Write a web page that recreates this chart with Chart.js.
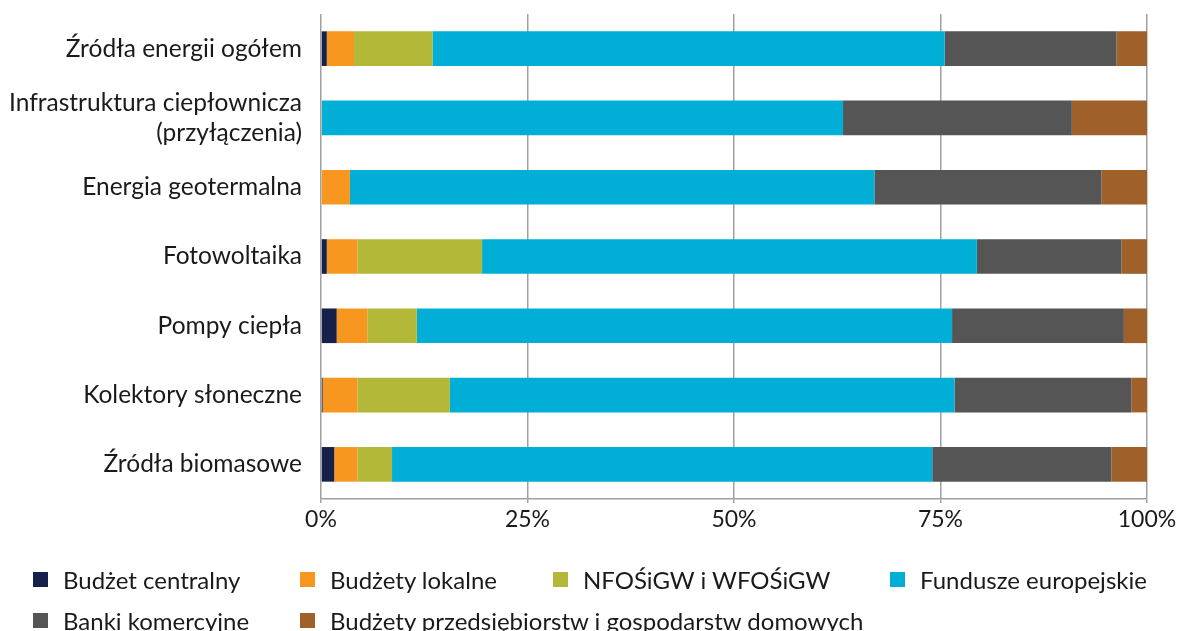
<!DOCTYPE html>
<html>
<head>
<meta charset="utf-8">
<script src="https://cdn.jsdelivr.net/npm/chart.js@4/dist/chart.umd.min.js"></script>
<style>
  html, body { margin: 0; padding: 0; background: #ffffff; }
  #wrap { position: relative; width: 1185px; height: 631px; overflow: hidden; }
  #c { position: absolute; left: 0; top: 0; }
  #legend {
    position: absolute; left: 33px; top: 559px;
    display: grid; grid-template-columns: 267px 253px 337px auto;
    grid-auto-rows: 41px;
    font-family: Lato, "Noto Sans", sans-serif; font-size: 24px; color: #1a1a1a;
  }
  .li { display: flex; align-items: center; white-space: nowrap; height: 41px; }
  .sw { width: 15px; height: 15px; margin-right: 15px; flex: none; }
</style>
</head>
<body>
<div id="wrap">
  <canvas id="c" width="1185" height="631"></canvas>
  <div id="legend"></div>
</div>
<script>
const categories = [
  'Źródła energii ogółem',
  ['Infrastruktura ciepłownicza', '(przyłączenia)'],
  'Energia geotermalna',
  'Fotowoltaika',
  'Pompy ciepła',
  'Kolektory słoneczne',
  'Źródła biomasowe'
];
const seriesNames = [
  'Budżet centralny',
  'Budżety lokalne',
  'NFOŚiGW i WFOŚiGW',
  'Fundusze europejskie',
  'Banki komercyjne',
  'Budżety przedsiębiorstw i gospodarstw domowych'
];
const budzetCentralny   = [0.7, 0.0, 0.0, 0.7, 1.9, 0.2, 1.6];
const budzetyLokalne    = [3.3, 0.0, 3.5, 3.7, 3.7, 4.2, 2.8];
const nfosWfos          = [9.5, 0.1, 0.0, 15.1, 6.0, 11.2, 4.2];
const funduszeEuropejskie = [62.0, 63.1, 63.5, 59.9, 64.8, 61.1, 65.4];
const bankiKomercyjne   = [20.8, 27.7, 27.5, 17.5, 20.8, 21.4, 21.7];
const budzetyPrzedsieb  = [3.7, 9.1, 5.5, 3.1, 2.8, 1.9, 4.3];
const xTickValues = [0, 25, 50, 75, 100];

const colors = ['#15214b', '#f7971f', '#b3b838', '#00aed6', '#555555', '#a0602a'];
const seriesData = [budzetCentralny, budzetyLokalne, nfosWfos, funduszeEuropejskie, bankiKomercyjne, budzetyPrzedsieb];

const FONT = 'Lato, "Noto Sans", sans-serif';

new Chart(document.getElementById('c'), {
  type: 'bar',
  data: {
    labels: categories,
    datasets: seriesData.map((d, i) => ({
      label: seriesNames[i],
      data: d,
      backgroundColor: colors[i],
      borderWidth: 0,
      categoryPercentage: 1.0,
      barPercentage: 0.5
    }))
  },
  options: {
    indexAxis: 'y',
    responsive: false,
    animation: false,
    layout: { padding: { top: 14, right: 38, bottom: 92, left: 0 } },
    plugins: { legend: { display: false }, tooltip: { enabled: false } },
    scales: {
      x: {
        stacked: true,
        min: 0, max: 100,
        afterBuildTicks: (s) => { s.ticks = xTickValues.map(v => ({ value: v })); },
        afterFit: (s) => { s.height = 40; s.paddingLeft = 0; s.paddingRight = 0; },
        grid: { color: '#a0a0a0', lineWidth: 1.5, drawTicks: true, tickLength: 4 },
        border: { display: true, color: '#a0a0a0', width: 1.5 },
        ticks: {
          padding: 3,
          color: '#1a1a1a',
          font: { family: FONT, size: 23 },
          callback: (v) => v + '%'
        }
      },
      y: {
        stacked: true,
        afterFit: (s) => { s.width = 321; s.paddingTop = 0; s.paddingBottom = 0; },
        grid: { display: false, drawTicks: false },
        border: { display: false },
        ticks: {
          padding: 19,
          color: '#1a1a1a',
          font: { family: FONT, size: 24.5, lineHeight: 1.22 }
        }
      }
    }
  }
});

const legend = document.getElementById('legend');
seriesNames.forEach((name, i) => {
  const item = document.createElement('div');
  item.className = 'li';
  const sw = document.createElement('span');
  sw.className = 'sw';
  sw.style.background = colors[i];
  const tx = document.createElement('span');
  tx.textContent = name;
  item.appendChild(sw); item.appendChild(tx);
  legend.appendChild(item);
});
</script>
</body>
</html>
